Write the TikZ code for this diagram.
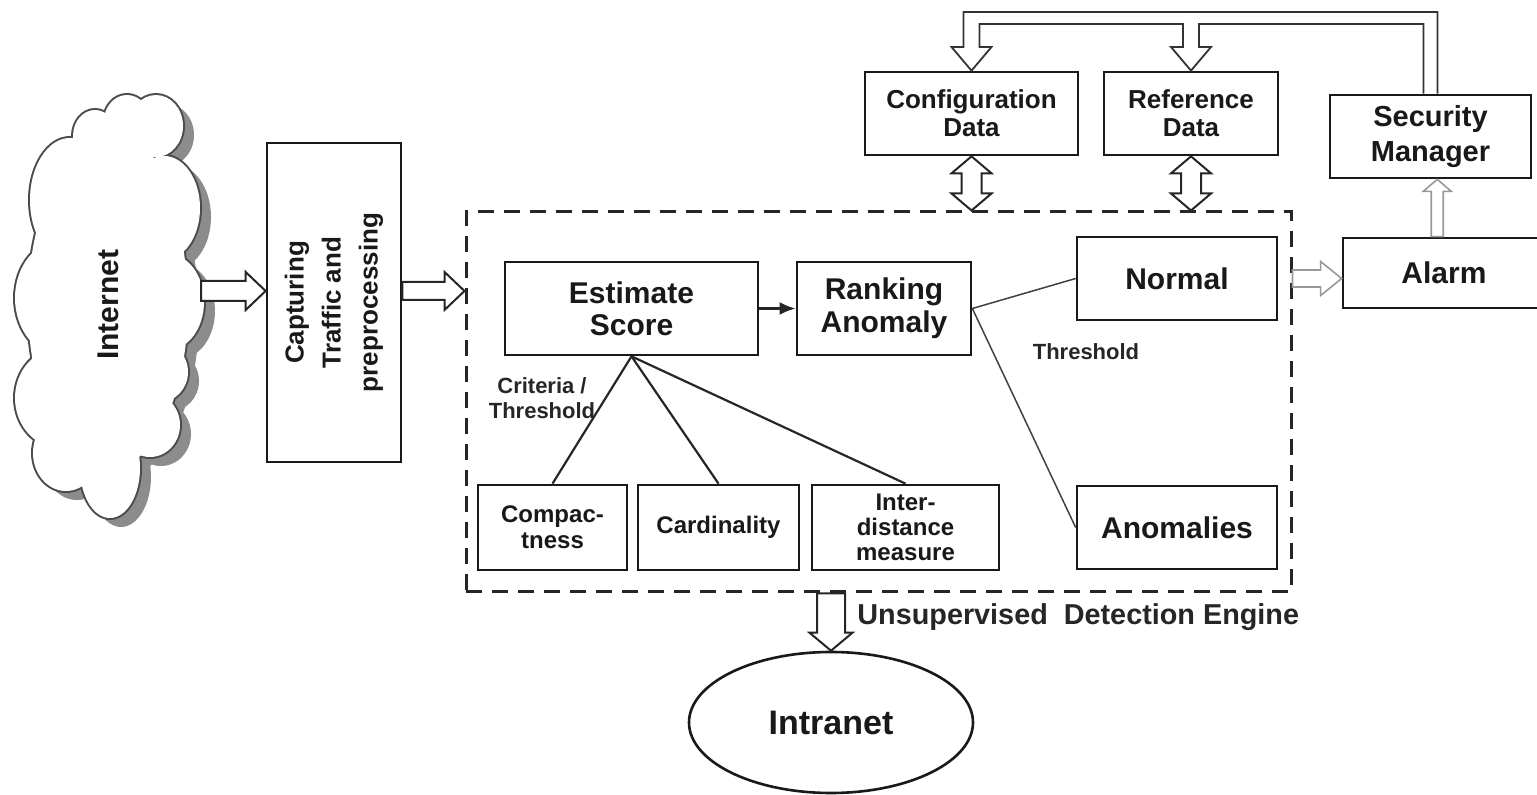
\documentclass[tikz,border=0pt]{standalone}
\usepackage{fontspec}
\setmainfont{Liberation Sans}
\usetikzlibrary{shapes.geometric,calc,arrows.meta}

\newcommand\bfsz[2]{\fontsize{#1pt}{#2pt}\selectfont\bfseries}

% hollow block arrows
% #1 start, #2 target, #3 shaft half width, #4 head half width, #5 head length, #6 style
\newcommand\blockright[6]{\draw[#6] let \p1=(#1), \p2=(#2) in
  (\x1,\y1+#3) -- (\x2-#5,\y1+#3) -- (\x2-#5,\y1+#4) -- (\x2,\y1)
  -- (\x2-#5,\y1-#4) -- (\x2-#5,\y1-#3) -- (\x1,\y1-#3) -- cycle;}
\newcommand\blockdown[6]{\draw[#6] let \p1=(#1), \p2=(#2) in
  (\x1-#3,\y1) -- (\x1-#3,\y2+#5) -- (\x1-#4,\y2+#5) -- (\x1,\y2)
  -- (\x1+#4,\y2+#5) -- (\x1+#3,\y2+#5) -- (\x1+#3,\y1) -- cycle;}
\newcommand\blockup[6]{\draw[#6] let \p1=(#1), \p2=(#2) in
  (\x1-#3,\y1) -- (\x1-#3,\y2-#5) -- (\x1-#4,\y2-#5) -- (\x1,\y2)
  -- (\x1+#4,\y2-#5) -- (\x1+#3,\y2-#5) -- (\x1+#3,\y1) -- cycle;}
\newcommand\blockupdown[6]{\draw[#6] let \p1=(#1), \p2=(#2) in
  (\x1,\y1) -- (\x1+#4,\y1-#5) -- (\x1+#3,\y1-#5) -- (\x1+#3,\y2+#5)
  -- (\x1+#4,\y2+#5) -- (\x1,\y2) -- (\x1-#4,\y2+#5) -- (\x1-#3,\y2+#5)
  -- (\x1-#3,\y1-#5) -- (\x1-#4,\y1-#5) -- cycle;}

% the Internet cloud as a union of lobes
\newcommand\cloudlobes{
  (108,305) ellipse [x radius=80, y radius=165]
  (108,190) ellipse [x radius=60, y radius=50]
  (70,200) ellipse [x radius=40, y radius=62]
  (95,136) ellipse [x radius=22, y radius=26]
  (127,121) ellipse [x radius=23, y radius=26]
  (156,126) ellipse [x radius=27, y radius=31]
  (164,208) ellipse [x radius=36, y radius=52]
  (168,302) ellipse [x radius=36, y radius=48]
  (160,372) ellipse [x radius=28, y radius=30]
  (150,425) ellipse [x radius=30, y radius=32]
  (110,468) ellipse [x radius=30, y radius=50]
  (66,453) ellipse [x radius=33, y radius=38]
  (60,398) ellipse [x radius=45, y radius=50]
  (62,298) ellipse [x radius=47, y radius=58]
}

\begin{document}
\begin{tikzpicture}[x=0.5pt,y=-0.5pt,
  box/.style={draw=black!90, line width=1.35pt, fill=white, align=center, inner sep=0pt, text=black!90},
  blk/.style={draw=black!85, line width=1pt, fill=white, line join=miter},
  blklight/.style={draw=black!40, line width=0.8pt, fill=white, line join=miter},
  pipe/.style={draw=black!80, line width=0.9pt, line join=miter},
  link/.style={draw=black!85, line width=1.1pt},
  branch/.style={draw=black!75, line width=0.75pt},
  lbl/.style={font=\bfsz{11}{12.5}, text=black!85, align=center, inner sep=0pt},
]
\useasboundingbox (0,0) rectangle (1537,795);
\clip (0,0) rectangle (1537,795);

% Internet cloud: shadow, outline, white body
\fill[black!45, shift={(11,9)}] \cloudlobes;
\draw[black!70, line width=2pt] \cloudlobes;
\fill[white] \cloudlobes;
\node[rotate=90, font=\bfsz{15}{18}, text=black!90] (net) at (108,305) {Internet};

% capture stage
\node[box, rotate=90, minimum width=159.5pt, minimum height=67pt, font=\bfsz{13}{18.5}] (cap) at (334,302.5)
  {Capturing\\Traffic and\\preprocessing};

% detection engine frame
\node[draw=black!85, line width=1.5pt, dash pattern=on 8pt off 5pt, minimum width=412.5pt,
  minimum height=190pt, inner sep=0pt] (engine) at (878.5,402) {};

% engine blocks
\node[box, minimum width=126.5pt, minimum height=46.5pt, font=\bfsz{15}{16}] (est) at (631.5,308.5) {Estimate\\Score};
\node[box, minimum width=87pt, minimum height=46.5pt, font=\bfsz{15}{16.5}] (rank) at (884,308.5) {Ranking\\Anomaly};
\node[box, minimum width=100pt, minimum height=41.5pt, font=\bfsz{15}{16}] (normal) at (1177,278.5) {Normal};
\node[box, minimum width=100pt, minimum height=41.5pt, font=\bfsz{15}{16}] (anom) at (1177,527.5) {Anomalies};
\node[box, minimum width=74.5pt, minimum height=42.5pt, font=\bfsz{12}{13}] (comp) at (552.5,527.5) {Compac-\\tness};
\node[box, minimum width=80.5pt, minimum height=42.5pt, font=\bfsz{12}{13}] (card) at (718.5,527.5) {Cardinality};
\node[box, minimum width=93.5pt, minimum height=42.5pt, font=\bfsz{12}{12.5}] (inter) at (905.5,527.5) {Inter-\\distance\\measure};

% data stores and management
\node[box, minimum width=106.5pt, minimum height=41.5pt, font=\bfsz{13}{14}] (config) at (971.5,113.5) {Configuration\\Data};
\node[box, minimum width=87pt, minimum height=41.5pt, font=\bfsz{13}{14}] (ref) at (1191,113.5) {Reference\\Data};
\node[box, minimum width=100.5pt, minimum height=41.5pt, font=\bfsz{14.5}{17.5}] (sm) at (1430.5,136.5) {Security\\Manager};
\node[box, minimum width=101pt, minimum height=35pt, font=\bfsz{15}{16}] (alarm) at (1444,273) {Alarm};

% protected network
\node[ellipse, draw=black!90, line width=1.3pt, fill=white, minimum width=142pt, minimum height=70.5pt,
  inner sep=0pt, font=\bfsz{17}{18}, text=black!90] (intranet) at (831,722.5) {Intranet};

% labels
\node[lbl] (crit) at (542,398) {Criteria /\\Threshold};
\node[lbl] (thr) at (1086,352) {Threshold};
\node[font=\bfsz{14.4}{16}, anchor=west, inner sep=0pt, text=black!85] (title) at (857,617)
  {Unsupervised\ \ Detection Engine};

% connectors inside the engine
\draw[link, line width=1.3pt, -{Latex[length=8pt,width=6.5pt]}] (est) -- (rank);
\draw[link] (est.south) -- (comp.north);
\draw[link] (est.south) -- (card.north);
\draw[link] (est.south) -- (inter.north);
\draw[branch] (rank.east) -- (normal.west);
\draw[branch] (rank.east) -- (anom.west);

% block arrows
\coordinate (netout) at (201,291);
\blockright{netout}{cap.north |- netout}{5pt}{9.5pt}{10pt}{blk}
\blockright{cap.south |- netout}{engine.west |- netout}{4.5pt}{9.5pt}{10pt}{blk}
\blockright{engine.east |- normal.east}{alarm.west}{4.25pt}{8.5pt}{10.5pt}{blklight}
\blockup{$(alarm.north)!0.5!(alarm.north -| sm.south)$}{sm.south}{3pt}{7pt}{6pt}{blklight}
\blockdown{engine.south -| intranet.north}{intranet.north}{7pt}{10.75pt}{9pt}{blk}
\blockupdown{config.south}{config.south |- engine.north}{5pt}{10pt}{8.5pt}{blk}
\blockupdown{ref.south}{ref.south |- engine.north}{5pt}{10pt}{8.5pt}{blk}

% feedback pipe from the security manager to the data stores
\coordinate (pipeO) at (0,12);
\coordinate (pipeI) at (0,24);
\coordinate (pipeH) at (0,47);
\draw[pipe] let \p1=(sm.north), \p2=(config.north), \p3=(ref.north),
    \p4=(pipeO), \p5=(pipeI), \p6=(pipeH) in
  (\x1+3.5pt,\y1) -- (\x1+3.5pt,\y4) -- (\x2-4pt,\y4) -- (\x2-4pt,\y6) -- (\x2-10pt,\y6)
  -- (\x2,\y2) -- (\x2+10pt,\y6) -- (\x2+4pt,\y6) -- (\x2+4pt,\y5) -- (\x3-4pt,\y5)
  -- (\x3-4pt,\y6) -- (\x3-10pt,\y6) -- (\x3,\y3) -- (\x3+10pt,\y6) -- (\x3+4pt,\y6)
  -- (\x3+4pt,\y5) -- (\x1-3.5pt,\y5) -- (\x1-3.5pt,\y1);
\end{tikzpicture}
\end{document}
